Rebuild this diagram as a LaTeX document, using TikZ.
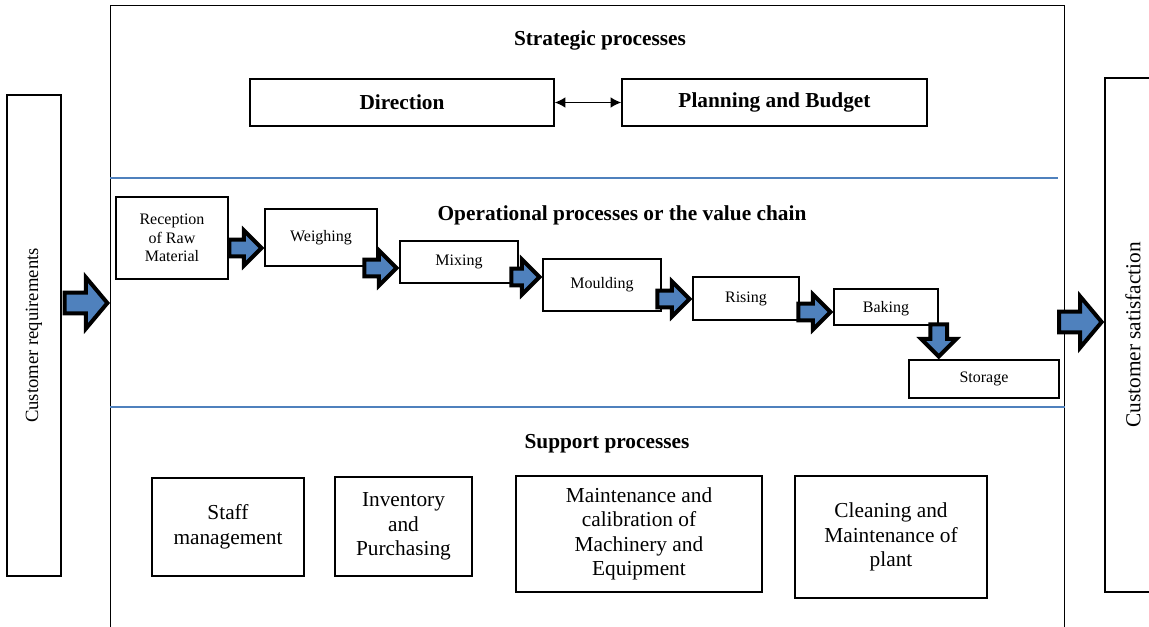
\documentclass[tikz,border=0pt]{standalone}
\usepackage{fontspec}
\setmainfont{Liberation Serif}
\usetikzlibrary{shapes.arrows, arrows.meta}
\definecolor{officeblue}{RGB}{79,129,189}
\tikzstyle{box} = [rectangle, draw=black, line width=1.1pt, align=center, inner sep=0pt]
\tikzstyle{stage} = [box, font=\fontsize{12}{14}\selectfont]
\tikzstyle{support} = [box, font=\fontsize{16}{18.4}\selectfont]
\tikzstyle{side} = [box, rotate=90]
\tikzstyle{head} = [font=\fontsize{16}{19}\selectfont\bfseries]
\tikzstyle{flow} = [single arrow, draw=black, line width=3pt, fill=officeblue, inner sep=0pt, inner ysep=4.8pt, single arrow head extend=6.8pt, minimum height=24pt, anchor=tip]
\tikzstyle{bigflow} = [flow, inner ysep=6.3pt, single arrow head extend=11.5pt, minimum height=32pt, single arrow tip angle=100]
\tikzstyle{sepline} = [draw=officeblue, line width=1pt]
\tikzstyle{arrow} = [line width=1pt, {Latex[length=8pt,width=8pt]}-{Latex[length=8pt,width=8pt]}]

\begin{document}
\begin{tikzpicture}[x=0.75pt, y=-0.75pt]
	\clip (0,0) rectangle (1149,626);
	% outer frame and the two sides
	\node (frame) [draw=black, line width=1.1pt, minimum width=715.5pt, minimum height=476.25pt, anchor=north west] at (110,5) {};
	\node (req) [side, minimum width=360.75pt, minimum height=40.5pt, font=\fontsize{14}{17}\selectfont] at (34,335.5) {Customer requirements};
	\node (sat) [side, minimum width=385.5pt, minimum height=42pt, font=\fontsize{16}{19}\selectfont] at (1133,335) {Customer satisfaction};
	\draw [sepline] (frame.west |- 0,178) -- (1058,178);
	\draw [sepline] (frame.west |- 0,407) -- (frame.east |- 0,407);

	% strategic processes
	\node (strat) [head] at (600,40) {Strategic processes};
	\node (dir) [box, head, minimum width=228pt, minimum height=35.25pt] at (402,102.5) {Direction};
	\node (plan) [box, head, minimum width=228.75pt, minimum height=35.25pt] at (774.5,102.5) {Planning and Budget};
	\draw [arrow] (dir) -- (plan);

	% operational processes
	\node (oper) [head] at (622,215) {Operational processes or the value chain};
	\node (recv) [stage, minimum width=84pt, minimum height=61.5pt] at (172,238) {Reception\\of Raw\\Material};
	\node (weigh) [stage, minimum width=84pt, minimum height=42.75pt] at (321,237.5) {Weighing};
	\node (mix) [stage, minimum width=88.5pt, minimum height=31.5pt] at (459,262) {Mixing};
	\node (mould) [stage, minimum width=88.5pt, minimum height=39pt] at (602,285) {Moulding};
	\node (rise) [stage, minimum width=79.5pt, minimum height=32.25pt] at (746,298.5) {Rising};
	\node (bake) [stage, minimum width=78pt, minimum height=27pt, text depth=-3pt] at (886,307) {Baking};
	\node (store) [stage, minimum width=112.5pt, minimum height=28.5pt] at (984,379) {Storage};
	\node (f1) [flow] at (weigh.west |- 0,248) {};
	\node (f2) [flow] at (mix.west |- 0,268) {};
	\node (f3) [flow, minimum height=21pt] at (mould.west |- 0,277) {};
	\node (f4) [flow] at (rise.west |- 0,299) {};
	\node (f5) [flow] at (bake.west |- 0,312) {};
	\node (f6) [flow, rotate=-90] at (bake.east |- store.north) {};
	\node (fin) [bigflow] at (frame.west |- 0,303) {};
	\node (fout) [bigflow] at (sat.north |- 0,322) {};

	% support processes
	\node (supp) [head] at (607,444) {Support processes};
	\node (staff) [support, minimum width=114pt, minimum height=73.5pt] at (228,527) {Staff\\management};
	\node (inv) [support, minimum width=102.75pt, minimum height=74.25pt] at (403.5,526.5) {Inventory\\and\\Purchasing};
	\node (maint) [support, minimum width=184.5pt, minimum height=87pt] at (639,534) {Maintenance and\\calibration of\\Machinery and\\Equipment};
	\node (clean) [support, minimum width=144pt, minimum height=91.5pt] at (891,537) {Cleaning and\\Maintenance of\\plant};
\end{tikzpicture}
\end{document}
